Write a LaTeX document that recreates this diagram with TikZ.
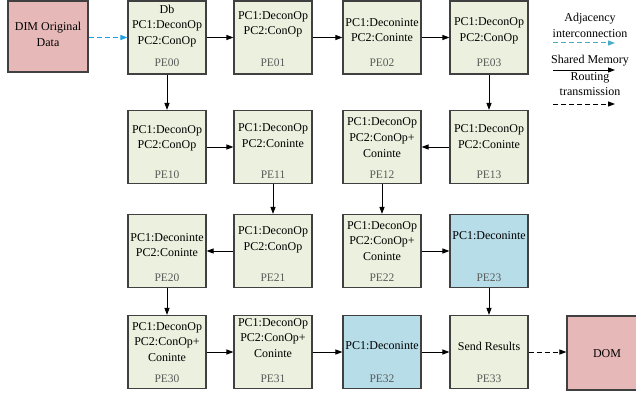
\documentclass[tikz,border=0pt]{standalone}
\usepackage{fontspec}
\setmainfont{Liberation Serif}
\newfontfamily\timesfam{Liberation Serif}
\usetikzlibrary{arrows.meta}
\definecolor{pegreen}{RGB}{235,241,222}
\definecolor{peblue}{RGB}{183,221,232}
\definecolor{iopink}{RGB}{230,185,184}
\definecolor{edgegray}{RGB}{64,64,64}
\definecolor{labelgray}{RGB}{89,89,89}
\definecolor{adjblue}{RGB}{30,160,230}
\definecolor{legcyan}{RGB}{75,172,198}
\tikzset{
  pebox/.style={draw=edgegray, line width=1.1pt, fill=pegreen,
    minimum width=78pt, minimum height=73pt, inner sep=0pt},
  pebluebox/.style={pebox, fill=peblue},
  iobox/.style={draw=edgegray, line width=1.1pt, fill=iopink, inner sep=0pt},
  txt/.style={align=center, inner sep=0pt, font=\timesfam\fontsize{12}{15.6}\selectfont},
  pelab/.style={inner sep=0pt, text=labelgray, font=\timesfam\fontsize{11.5}{13}\selectfont},
  tip/.style={-{Triangle[length=7pt,width=5pt]}},
  flow/.style={tip, line width=1pt, draw=black},
  adj/.style={tip, line width=1pt, draw=adjblue, dash pattern=on 5pt off 3pt},
  route/.style={tip, line width=1pt, draw=black, dash pattern=on 5pt off 3pt},
}
\begin{document}
\begin{tikzpicture}[x=1pt,y=-1pt]
\useasboundingbox (0,0) rectangle (636,396);

% input and output blocks
\node[iobox, minimum width=80pt, minimum height=71pt] (dim) at (48,36.5) {};
\node[txt] (dimt) at (48,34.5) {DIM Original\\Data};
\node[iobox, minimum width=70pt, minimum height=74pt] (dom) at (602,353) {};
\node[txt] (domt) at (607,354) {DOM};

% row 0
\node[pebox] (b00) at (167,37.5) {};
\node[txt] (t00) at (167,26) {Db\\PC1:DeconOp\\PC2:ConOp};
\node[pebox] (b01) at (273,37.5) {};
\node[txt] (t01) at (273,24.5) {PC1:DeconOp\\PC2:ConOp};
\node[pebox] (b02) at (382,37.5) {};
\node[txt] (t02) at (382,30) {PC1:Deconinte\\PC2:Coninte};
\node[pebox] (b03) at (489,37.5) {};
\node[txt] (t03) at (489,31) {PC1:DeconOp\\PC2:ConOp};

% row 1
\node[pebox] (b10) at (167,147) {};
\node[txt] (t10) at (167,138.5) {PC1:DeconOp\\PC2:ConOp};
\node[pebox] (b11) at (273,147) {};
\node[txt] (t11) at (273,135.5) {PC1:DeconOp\\PC2:Coninte};
\node[pebox] (b12) at (382,147) {};
\node[txt] (t12) at (382,137.5) {PC1:DeconOp\\PC2:ConOp+\\Coninte};
\node[pebox] (b13) at (489,147) {};
\node[txt] (t13) at (489,136.5) {PC1:DeconOp\\PC2:Coninte};

% row 2
\node[pebox] (b20) at (167,251) {};
\node[txt] (t20) at (167,245) {PC1:Deconinte\\PC2:Coninte};
\node[pebox] (b21) at (273,251) {};
\node[txt] (t21) at (273,240) {PC1:DeconOp\\PC2:ConOp};
\node[pebox] (b22) at (382,251) {};
\node[txt] (t22) at (382,241) {PC1:DeconOp\\PC2:ConOp+\\Coninte};
\node[pebluebox] (b23) at (489,251) {};
\node[txt] (t23) at (489,236) {PC1:Deconinte};

% row 3
\node[pebox] (b30) at (167,352) {};
\node[txt] (t30) at (167,342) {PC1:DeconOp\\PC2:ConOp+\\Coninte};
\node[pebox] (b31) at (273,352) {};
\node[txt] (t31) at (273,338) {PC1:DeconOp\\PC2:ConOp+\\Coninte};
\node[pebluebox] (b32) at (382,352) {};
\node[txt] (t32) at (382,346) {PC1:Deconinte};
\node[pebox] (b33) at (489,352) {};
\node[txt] (t33) at (489,346) {Send Results};

% element names
\foreach \r/\c/\y in {0/0/63,0/1/63,0/2/63,0/3/63,
                      1/0/175,1/1/175,1/2/175,1/3/175,
                      2/0/278,2/1/278,2/2/278,2/3/278,
                      3/0/379,3/1/379,3/2/379,3/3/379}{
  \node[pelab] (p\r\c) at (b\r\c.center |- 0,\y) {PE\r\c};
}

% data flow
\draw[adj] (dim.east |- b00.west) -- (b00.west);
\draw[flow] (b00) -- (b01);
\draw[flow] (b01) -- (b02);
\draw[flow] (b02) -- (b03);
\draw[flow] (b00) -- (b10);
\draw[flow] (b03) -- (b13);
\draw[flow] (b10) -- (b11);
\draw[flow] (b13) -- (b12);
\draw[flow] (b11) -- (b21);
\draw[flow] (b12) -- (b22);
\draw[flow] (b21) -- (b20);
\draw[flow] (b22) -- (b23);
\draw[flow] (b20) -- (b30);
\draw[flow] (b23) -- (b33);
\draw[flow] (b30) -- (b31);
\draw[flow] (b31) -- (b32);
\draw[flow] (b32) -- (b33);
\draw[route] (b33.east) -- (b33.east -| dom.west);

% legend
\node[txt] (l1) at (590,25.5) {Adjacency\\interconnection};
\coordinate (a1) at (553,43);
\coordinate (a2) at (615,43);
\draw[adj, draw=legcyan] (a1) -- (a2);
\node[txt] (l2) at (590,61) {Shared Memory};
\coordinate (s1) at (553,70);
\coordinate (s2) at (615,70);
\draw[flow] (s1) -- (s2);
\node[txt] (l3) at (590,84) {Routing\\transmission};
\coordinate (r1) at (553,104);
\coordinate (r2) at (615,104);
\draw[route] (r1) -- (r2);
\end{tikzpicture}
\end{document}
